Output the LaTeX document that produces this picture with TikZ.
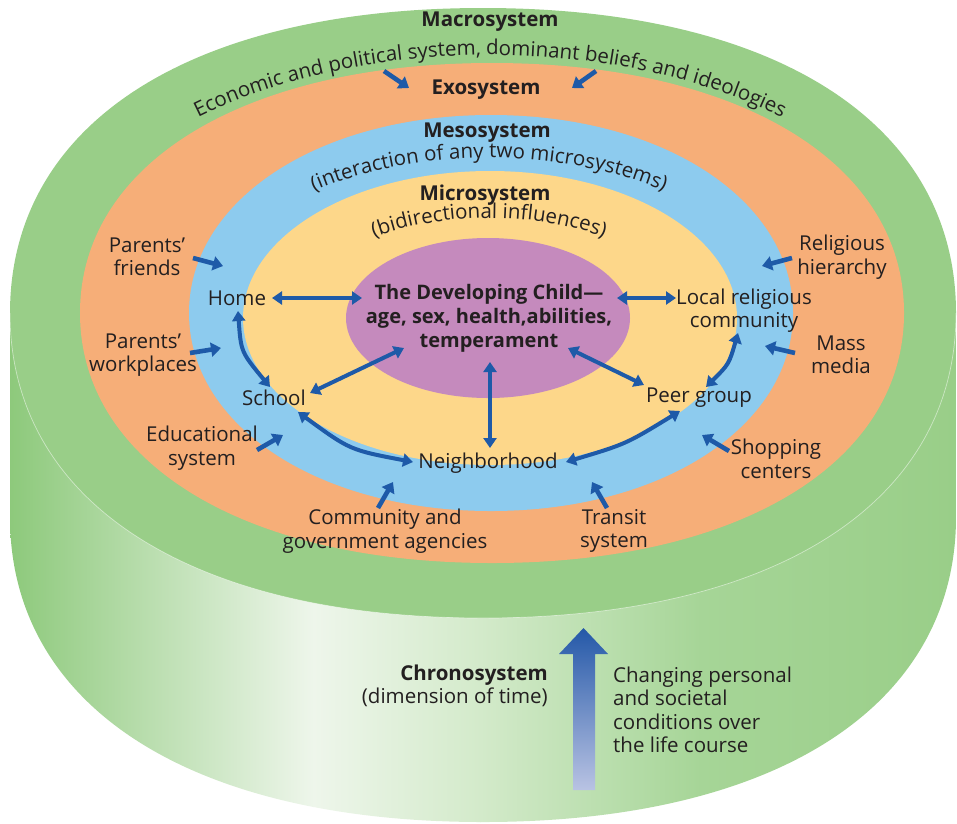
\documentclass[tikz,border=0pt]{standalone}
\usepackage{fontspec}
\setmainfont{Open Sans}
\usetikzlibrary{arrows.meta,decorations.text}
\definecolor{grn}{HTML}{99CE88}
\definecolor{org}{HTML}{F6AE78}
\definecolor{blu}{HTML}{8DCBEE}
\definecolor{yel}{HTML}{FDD78A}
\definecolor{pur}{HTML}{C58ABD}
\definecolor{abl}{HTML}{1E5AA8}
\definecolor{txt}{HTML}{231F20}
\definecolor{gsa}{HTML}{8DC97B}
\definecolor{gsb}{HTML}{EEF6EB}
\definecolor{gsc}{HTML}{D3EACA}
\definecolor{gsd}{HTML}{A6D597}
\definecolor{gse}{HTML}{99CE88}
\definecolor{chtop}{HTML}{2458A8}
\definecolor{chbot}{HTML}{B9C3E3}
\newcommand\lblfont{\fontsize{20.5}{23.5}\selectfont}
\tikzset{
  sell/.style n args={5}{insert path={
    ({#1-#3},#2) .. controls ({#1-#3},{#2-#5*#4}) and ({#1-#5*#3},{#2-#4}) .. (#1,{#2-#4})
    .. controls ({#1+#5*#3},{#2-#4}) and ({#1+#3},{#2-#5*#4}) .. ({#1+#3},#2)
    .. controls ({#1+#3},{#2+#5*#4}) and ({#1+#5*#3},{#2+#4}) .. (#1,{#2+#4})
    .. controls ({#1-#5*#3},{#2+#4}) and ({#1-#3},{#2+#5*#4}) .. ({#1-#3},#2) -- cycle}},
  lb/.style={text=txt, font=\lblfont, align=center, inner sep=1pt},
  bl/.style={lb, font=\bfseries\lblfont},
  ar/.style={draw=abl, line width=4.6pt, -{Triangle[length=10pt,width=14pt]}},
  dar/.style={draw=abl, line width=4pt, {Triangle[length=10pt,width=13pt]}-{Triangle[length=10pt,width=13pt]}},
  curvetext/.style={decorate, decoration={text along path, text align=center, text color=txt, text={#1}}}
}
\begin{document}
\begin{tikzpicture}[x=1pt,y=-1pt]
\useasboundingbox (0,0) rectangle (957,823);
% cylinder side
\begin{scope}
\clip (10,313) -- (10,517) .. controls (10,{517+0.62*305}) and ({483-0.62*473},822) .. (483,822)
  .. controls ({483+0.62*473},822) and (956,{517+0.62*305}) .. (956,517) -- (956,313) -- cycle;
\shade[left color=gsa, right color=gsb] (9,300) rectangle (314,823);
\shade[left color=gsb, right color=gsc] (313,300) rectangle (481,823);
\shade[left color=gsc, right color=gsd] (480,300) rectangle (701,823);
\shade[left color=gsd, right color=gse] (700,300) rectangle (957,823);
\end{scope}
% top rings
\fill[grn, sell={483}{313}{473}{305}{0.62}];
\draw[white, opacity=0.5, line width=0.7pt] (10,313) .. controls (10,{313+0.62*305}) and ({483-0.62*473},618) .. (483,618)
  .. controls ({483+0.62*473},618) and (956,{313+0.62*305}) .. (956,313);
\fill[org, sell={492}{313}{412}{250}{0.6}];
\fill[blu, sell={491}{313}{302}{198}{0.57}];
\fill[yel, sell={490}{318}{247}{147}{0.555}];
\fill[pur, sell={488}{318}{142}{80}{0.5523}];
% curved texts
\path[curvetext={|\lblfont|Economic and political system, dominant beliefs and ideologies}]
  (43,313) arc[start angle=180, end angle=360, x radius=447, y radius=258];
\path[curvetext={|\lblfont|(interaction of any two microsystems)}]
  (202,318) arc[start angle=180, end angle=360, x radius=287, y radius=160];
\path[curvetext={|\lblfont|(bidirectional influences)}]
  (284,330) arc[start angle=180, end angle=360, x radius=205, y radius=112];
% titles
\node[bl] (macro) at (490,22) {Macrosystem};
\node[bl] (exo) at (486,90) {Exosystem};
\node[bl] (meso) at (487,133) {Mesosystem};
\node[bl] (micro) at (485,195) {Microsystem};
\node[bl, font=\bfseries\fontsize{20}{24}\selectfont] (child) at (489,318) {The Developing Child—\\age, sex, health,abilities,\\temperament};
% microsystems
\node[lb] (home) at (237,298) {Home};
\node[lb] (local) at (744,310.5) {Local religious\\community};
\node[lb] (school) at (274,398) {School};
\node[lb] (neigh) at (488,463) {Neighborhood};
\node[lb] (peer) at (699,398) {Peer group};
% exosystem labels
\node[lb] (pfriends) at (147,257) {Parents’\\friends};
\node[lb] (relhier) at (842,257) {Religious\\hierarchy};
\node[lb] (pwork) at (143,355) {Parents’\\workplaces};
\node[lb] (mass) at (841,355) {Mass\\media};
\node[lb] (edu) at (202,448) {Educational\\system};
\node[lb] (shop) at (776,459) {Shopping\\centers};
\node[lb] (comm) at (385,531) {Community and\\government agencies};
\node[lb] (transit) at (614,531) {Transit\\system};
% chronosystem
\node[lb, anchor=east, align=right] (chrono) at (549,686) {\textbf{Chronosystem}\\(dimension of time)};
\node[lb, anchor=west, align=left] (change) at (612,710) {Changing personal\\and societal\\conditions over\\the life course};
\shade[top color=chtop, bottom color=chbot] (573,790) -- (573,654) -- (559,654) -- (583.5,628) -- (608,654) -- (595,654) -- (595,790) -- cycle;
% arrow end points
\coordinate (ma1) at (384,71);  \coordinate (ma2) at (409,88);
\coordinate (mb1) at (596,71);  \coordinate (mb2) at (572,88);
\coordinate (pf1) at (193,258); \coordinate (pf2) at (223,266);
\coordinate (rh1) at (792,258); \coordinate (rh2) at (762,266);
\coordinate (pw1) at (190,353); \coordinate (pw2) at (221,348);
\coordinate (mm1) at (795,353); \coordinate (mm2) at (765,346);
\coordinate (ed1) at (257,450); \coordinate (ed2) at (283,435);
\coordinate (sh1) at (729,451); \coordinate (sh2) at (702,435);
\coordinate (co1) at (378,508); \coordinate (co2) at (393,482);
\coordinate (tr1) at (607,508); \coordinate (tr2) at (592,482);
\coordinate (hc1) at (272,298); \coordinate (hc2) at (362,298);
\coordinate (cl1) at (617,298); \coordinate (cl2) at (676,298);
\coordinate (hs1) at (238,311); \coordinate (hs2) at (270,387);
\coordinate (sc1) at (310,393); \coordinate (sc2) at (404,348);
\coordinate (sn1) at (298,412); \coordinate (sn2) at (413,462);
\coordinate (cn1) at (490,362); \coordinate (cn2) at (490,448);
\coordinate (cp1) at (568,348); \coordinate (cp2) at (644,385);
\coordinate (lp1) at (738,333); \coordinate (lp2) at (706,387);
\coordinate (pn1) at (680,411); \coordinate (pn2) at (566,462);
% single arrows
\draw[ar] (ma1) -- (ma2);
\draw[ar] (mb1) -- (mb2);
\draw[ar] (pf1) -- (pf2);
\draw[ar] (rh1) -- (rh2);
\draw[ar] (pw1) -- (pw2);
\draw[ar] (mm1) -- (mm2);
\draw[ar] (ed1) -- (ed2);
\draw[ar] (sh1) -- (sh2);
\draw[ar] (co1) -- (co2);
\draw[ar] (tr1) -- (tr2);
% double arrows
\draw[dar] (hc1) -- (hc2);
\draw[dar] (cl1) -- (cl2);
\draw[dar] (hs1) .. controls (241,352) .. (hs2);
\draw[dar] (sc1) -- (sc2);
\draw[dar] (sn1) .. controls (350,450) .. (sn2);
\draw[dar] (cn1) -- (cn2);
\draw[dar] (cp1) -- (cp2);
\draw[dar] (lp1) .. controls (729,364) .. (lp2);
\draw[dar] (pn1) .. controls (626,444) .. (pn2);
\end{tikzpicture}
\end{document}
